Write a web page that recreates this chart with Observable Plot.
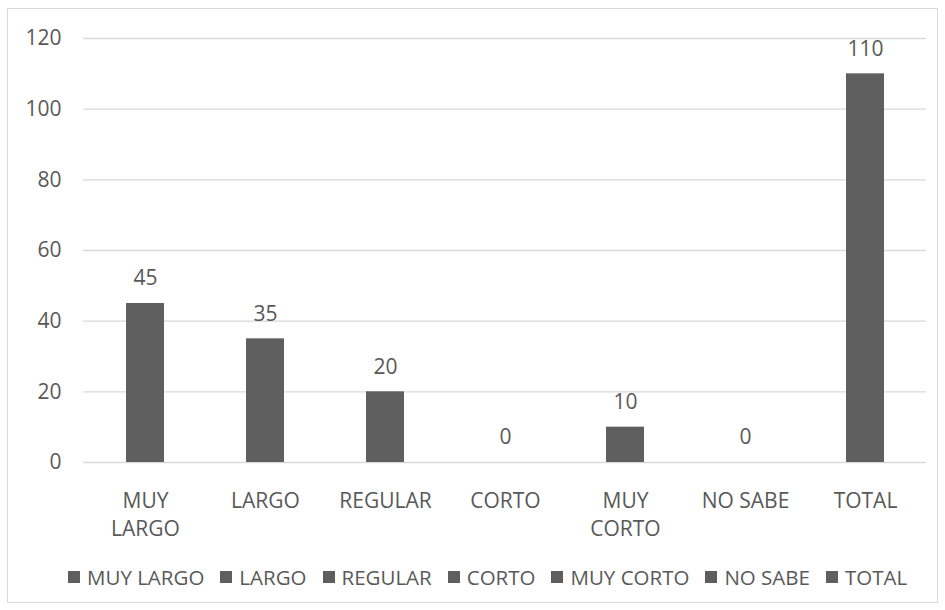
<!DOCTYPE html>
<html>
<head>
<meta charset="utf-8">
<script src="https://cdn.jsdelivr.net/npm/d3@7"></script>
<script src="https://cdn.jsdelivr.net/npm/@observablehq/plot@0.6"></script>
<style>
  html, body { margin: 0; padding: 0; background: #fff; }
  #wrap { position: relative; width: 945px; height: 610px; overflow: hidden; font-family: "Open Sans", sans-serif; }
  #frame { position: absolute; left: 7px; top: 8px; width: 929px; height: 593px; border: 1px solid #d9d9d9; pointer-events: none; }
  #chart { position: absolute; left: 0; top: 0; }
  #legend { position: absolute; left: 68px; top: 563px; display: flex; align-items: center; font-size: 20.5px; color: #595959; white-space: nowrap; }
  #legend .item { display: flex; align-items: center; margin-right: 16px; }
  #legend .sw { width: 12px; height: 12px; background: #5f5f5f; margin-right: 7px; }
</style>
</head>
<body>
<div id="wrap">
  <div id="chart"></div>
  <div id="legend"></div>
  <div id="frame"></div>
</div>
<script>
const categories = ["MUY LARGO", "LARGO", "REGULAR", "CORTO", "MUY CORTO", "NO SABE", "TOTAL"];
const values = [45, 35, 20, 0, 10, 0, 110];
const axisLabels = ["MUY\nLARGO", "LARGO", "REGULAR", "CORTO", "MUY\nCORTO", "NO SABE", "TOTAL"];
const yTicks = [0, 20, 40, 60, 80, 100, 120];

const data = categories.map((c, i) => ({category: c, value: values[i], label: axisLabels[i]}));
const textColor = "#595959";
const barColor = "#5f5f5f";

const plot = Plot.plot({
  width: 945,
  height: 555,
  marginLeft: 83,
  marginRight: 19,
  marginTop: 38,
  marginBottom: 93,
  style: {background: "transparent", fontFamily: "'Open Sans', sans-serif", fontSize: "21px", color: textColor},
  x: {domain: categories, paddingInner: 0.684, paddingOuter: 0.342, axis: null},
  y: {domain: [0, 120], axis: null},
  marks: [
    Plot.ruleY(yTicks, {stroke: "#d9d9d9", strokeWidth: 1.3}),
    Plot.axisY(yTicks, {tickSize: 0, tickPadding: 22, fill: textColor, fontSize: 21, label: null}),
    Plot.barY(data, {x: "category", y: "value", fill: barColor}),
    Plot.text(data, {x: "category", y: "value", text: d => String(d.value), dy: -25, lineAnchor: "middle", fill: textColor, fontSize: 21}),
    Plot.text(data, {x: "category", y: () => 0, text: "label", dy: 25, lineAnchor: "top", lineHeight: 1.35, fill: textColor, fontSize: 21})
  ]
});
document.getElementById("chart").appendChild(plot);

const legend = document.getElementById("legend");
categories.forEach(c => {
  const item = document.createElement("div");
  item.className = "item";
  const sw = document.createElement("span");
  sw.className = "sw";
  const t = document.createElement("span");
  t.textContent = c;
  item.appendChild(sw);
  item.appendChild(t);
  legend.appendChild(item);
});
</script>
</body>
</html>
